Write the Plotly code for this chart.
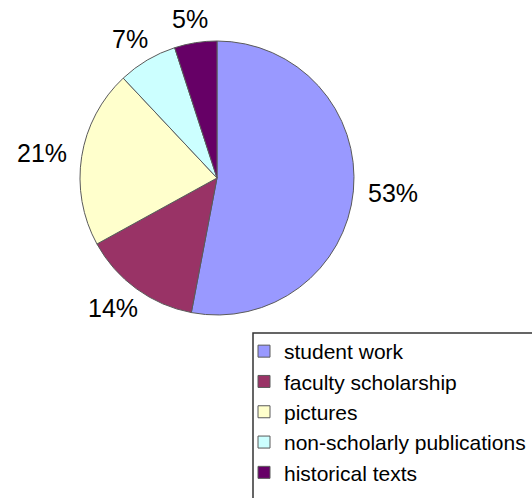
import math
import plotly.graph_objects as go

# Share of collection items by content type
categories = ["student work", "faculty scholarship", "pictures",
              "non-scholarly publications", "historical texts"]
shares = [53, 14, 21, 7, 5]
slice_colors = ["#9999FF", "#993366", "#FFFFCC", "#CCFFFF", "#660066"]

W, H = 532, 498
FONT = "Liberation Sans, Arial, sans-serif"
LABEL_SIZE = 25

# pie placement in pixels (centre and radius)
cx, cy, r = 217, 178, 137
gap = 15  # distance between the rim and the nearest edge of a label

fig = go.Figure(
    go.Pie(
        labels=categories,
        values=shares,
        sort=False,
        direction="clockwise",
        rotation=0,
        textinfo="none",
        marker=dict(colors=slice_colors, line=dict(color="#5a5a5a", width=1)),
        domain=dict(x=[(cx - r) / W, (cx + r) / W],
                    y=[1 - (cy + r) / H, 1 - (cy - r) / H]),
        hoverinfo="label+percent",
    )
)

# percentage labels placed just outside each slice, on its mid-angle
total = sum(shares)
annotations = []
cum = 0
for v in shares:
    theta = 2 * math.pi * (cum + v / 2) / total  # clockwise from 12 o'clock
    cum += v
    s, c = math.sin(theta), math.cos(theta)
    text = f"{v}%"
    w = (0.556 * (len(text) - 1) + 0.889) * LABEL_SIZE
    h = 0.72 * LABEL_SIZE
    px = cx + s * (r + gap) + s * w / 2
    py = cy - c * (r + gap) - c * h / 2
    annotations.append(dict(
        x=px / W, y=1 - py / H, xref="paper", yref="paper",
        text=text, showarrow=False, xanchor="center", yanchor="middle",
        font=dict(family=FONT, size=LABEL_SIZE, color="#000000"),
    ))

fig.update_layout(
    width=W,
    height=H,
    margin=dict(l=0, r=0, t=0, b=0, autoexpand=False),
    paper_bgcolor="#FFFFFF",
    plot_bgcolor="#FFFFFF",
    showlegend=True,
    annotations=annotations,
    legend=dict(
        x=244 / W,
        y=1 - 331 / H,
        xanchor="left",
        yanchor="top",
        font=dict(family=FONT, size=21, color="#000000"),
        bgcolor="rgba(0,0,0,0)",
        borderwidth=0,
        traceorder="normal",
    ),
    shapes=[
        dict(
            type="rect", xref="paper", yref="paper",
            x0=253 / W, x1=1.02, y0=-0.02, y1=1 - 333 / H,
            line=dict(color="#333333", width=1.5),
            fillcolor="rgba(0,0,0,0)",
            layer="below",
        )
    ],
)

fig.write_html("out.html")
